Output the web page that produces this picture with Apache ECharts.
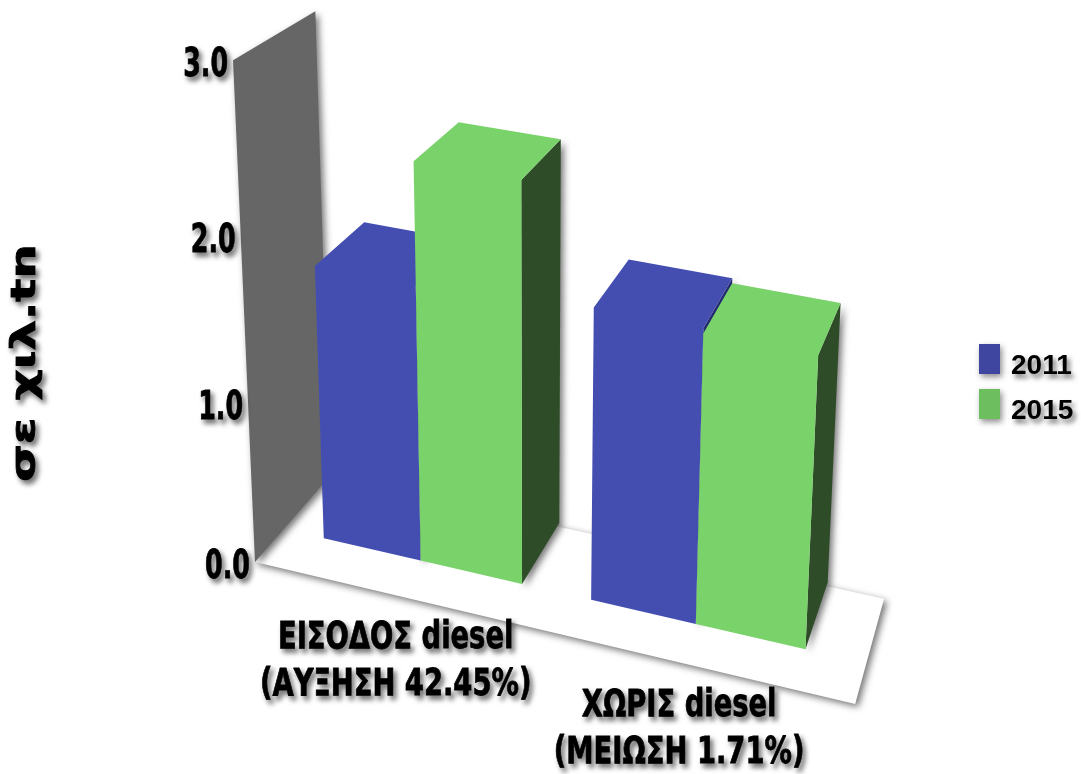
<!DOCTYPE html>
<html>
<head>
<meta charset="utf-8">
<style>html,body{margin:0;padding:0;background:#fff}#c{width:1081px;height:774px}</style>
<script src="https://cdn.jsdelivr.net/npm/echarts@6/dist/echarts.min.js"></script>
</head>
<body>
<div id="c"></div>
<script>
var categories = ['ΕΙΣΟΔΟΣ diesel\n(ΑΥΞΗΣΗ 42.45%)', 'ΧΩΡΙΣ diesel\n(ΜΕΙΩΣΗ 1.71%)'];
var values2011 = [1.72, 1.79];
var values2015 = [2.45, 1.76];
var tickValues = [0, 1, 2, 3];
var tickLabels = ['0.0', '1.0', '2.0', '3.0'];
var seriesNames = ['2011', '2015'];
var yAxisTitle = 'σε χιλ.tn';

// Perspective camera: vanishing points of the three world directions
var ORIGIN = [255, 562], VX = [-6500, -1037], VY = [534, 6944], VZ = [1188, -508];
var KX = -0.0816, KY = -0.0243, KZ = 0.0874;
var X0 = 0.013, XL = 0.948, Z_FRONT = 0.365, Z_BACK = 1.04, W_LEFT = 0.176, W_RIGHT = 0.179;
var LABEL_FONT = '"DejaVu Sans",sans-serif';
var SHADOW = { textShadowBlur: 5, textShadowColor: 'rgba(0,0,0,0.55)', textShadowOffsetX: 3, textShadowOffsetY: 4 };

function project(X, Y, Z) {
  var a = KX * X, b = KY * Y, c = KZ * Z, w = 1 + a + b + c;
  return [(ORIGIN[0] + a * VX[0] + b * VY[0] + c * VZ[0]) / w,
          (ORIGIN[1] + a * VX[1] + b * VY[1] + c * VZ[1]) / w];
}
function worldX(px, cs) { return X0 + XL * (px - cs.x) / cs.width; }
function worldY(py, cs) { return 3 * (cs.y + cs.height - py) / cs.height; }
function poly(points, fill, shadow) {
  var style = { fill: fill };
  if (shadow) { style.shadowBlur = 7; style.shadowColor = 'rgba(0,0,0,0.55)'; style.shadowOffsetX = 3; style.shadowOffsetY = 3; }
  return { type: 'polygon', shape: { points: points }, style: style };
}
function labelStyle(text, size, align, vAlign) {
  return Object.assign({
    text: text, fontFamily: LABEL_FONT, fontWeight: 'bold', fontSize: size, fill: '#000',
    stroke: '#000', lineWidth: 0.8, align: align, verticalAlign: vAlign
  }, SHADOW);
}
function barRenderer(front, side, x0Off, x1Off) {
  return function (params, api) {
    var cs = params.coordSys;
    var p0 = api.coord([api.value(0), 0]);
    var p1 = api.coord([api.value(0), api.value(1)]);
    var xc = worldX(p0[0], cs), yTop = worldY(p1[1], cs);
    var xa = xc + x0Off, xb = xc + x1Off;
    return { type: 'group', children: [
      poly([project(xb, 0, Z_FRONT), project(xb, 0, Z_BACK), project(xb, yTop, Z_BACK), project(xb, yTop, Z_FRONT)], side, true),
      poly([project(xa, 0, Z_FRONT), project(xb, 0, Z_FRONT), project(xb, yTop, Z_FRONT), project(xb, yTop, Z_BACK),
            project(xa, yTop, Z_BACK), project(xa, yTop, Z_FRONT)], front)
    ] };
  };
}

var legendIconShadow = { shadowBlur: 6, shadowColor: 'rgba(0,0,0,0.45)', shadowOffsetX: 2, shadowOffsetY: 3 };
var option = {
  animation: false,
  backgroundColor: '#fff',
  grid: { left: 255, top: 60, width: 600, height: 500 },
  xAxis: { type: 'category', data: categories, show: false },
  yAxis: { type: 'value', min: 0, max: 3, interval: 1, show: false },
  legend: {
    left: 979, top: 344, padding: 0, orient: 'vertical', itemWidth: 21, itemHeight: 30, itemGap: 9,
    selectedMode: false,
    data: [
      { name: seriesNames[0], icon: 'rect', itemStyle: Object.assign({ color: '#3e46a0' }, legendIconShadow) },
      { name: seriesNames[1], icon: 'rect', itemStyle: Object.assign({ color: '#6cbe5e' }, legendIconShadow) }
    ],
    formatter: '{a|{name}}',
    textStyle: {
      rich: { a: Object.assign({ fontFamily: '"Liberation Sans",sans-serif', fontWeight: 'bold', fontSize: 28, color: '#000',
        padding: [14, 0, 0, 6] }, SHADOW) }
    }
  },
  graphic: [{
    type: 'text', x: 26, y: 363, rotation: Math.PI / 2, scaleX: 1.42,
    style: Object.assign({ text: yAxisTitle, fontFamily: LABEL_FONT, fontWeight: 'bold', fontSize: 34, fill: '#000',
      stroke: '#000', lineWidth: 0.8, align: 'center', verticalAlign: 'middle' }, SHADOW)
  }],
  series: [
    {
      name: 'frame', type: 'custom', coordinateSystem: 'cartesian2d', silent: true, z: 1,
      data: [[0, 3]],
      renderItem: function (params, api) {
        var yTop = worldY(api.coord([0, api.value(1)])[1], params.coordSys);
        return { type: 'group', children: [
          poly([project(0, 0, 0), project(1, 0, 0), project(1, 0, 1), project(0, 0, 1)], '#ffffff', true),
          poly([project(0, 0, 0), project(0, yTop, 0), project(0, yTop, 1), project(0, 0, 1)], '#666666', true)
        ] };
      }
    },
    {
      name: seriesNames[0], type: 'custom', coordinateSystem: 'cartesian2d', silent: true, z: 2,
      data: values2011.map(function (v, i) { return [i, v]; }),
      renderItem: barRenderer('#444eb1', '#232a70', -W_LEFT, 0)
    },
    {
      name: seriesNames[1], type: 'custom', coordinateSystem: 'cartesian2d', silent: true, z: 3,
      data: values2015.map(function (v, i) { return [i, v]; }),
      renderItem: barRenderer('#7ad26a', '#2d4c27', 0, W_RIGHT)
    },
    {
      name: 'ticks', type: 'custom', coordinateSystem: 'cartesian2d', silent: true, z: 4,
      data: tickValues.map(function (v) { return [0, v]; }),
      renderItem: function (params, api) {
        var y = worldY(api.coord([0, api.value(1)])[1], params.coordSys);
        var p = project(0, y, 0);
        return { type: 'text', x: p[0] - 5, y: p[1] + 6, scaleX: 0.65,
          style: labelStyle(tickLabels[params.dataIndex], 39, 'right', 'middle') };
      }
    },
    {
      name: 'categoryLabels', type: 'custom', coordinateSystem: 'cartesian2d', silent: true, z: 4,
      data: categories.map(function (c, i) { return [i, 0]; }),
      renderItem: function (params, api) {
        var pt = api.coord([api.value(0), 0]);
        var p = project(worldX(pt[0], params.coordSys), 0, 0);
        var s = labelStyle(categories[params.dataIndex], 37, 'center', 'middle');
        s.lineHeight = 47;
        return { type: 'text', x: p[0], y: p[1] + 67, scaleX: 0.74, style: s };
      }
    }
  ]
};
var chart = echarts.init(document.getElementById('c'), null, { renderer: 'canvas' });
chart.setOption(option);
</script>
</body>
</html>
